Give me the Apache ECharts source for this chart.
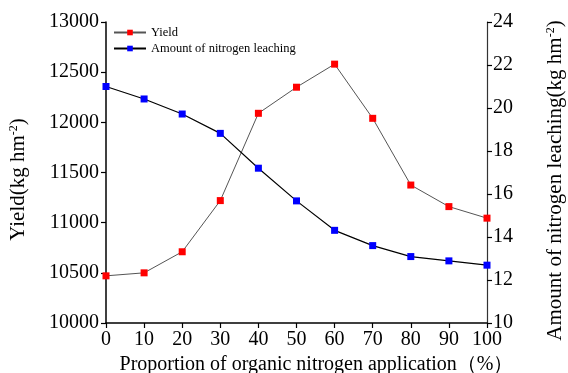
<!DOCTYPE html>
<html><head><meta charset="utf-8">
<script src="https://cdn.jsdelivr.net/npm/echarts@6/dist/echarts.min.js"></script>
<style>html,body{margin:0;padding:0;background:#fff}#c{width:568px;height:373px}</style>
</head><body><div id="c"></div>
<script>
const categories = ['0','10','20','30','40','50','60','70','80','90','100'];
const yieldValues = [10470, 10500, 10710, 11220, 12090, 12350, 12580, 12040, 11375, 11160, 11045];
const leachingValues = [21.0, 20.42, 19.72, 18.82, 17.2, 15.68, 14.31, 13.6, 13.09, 12.89, 12.69];
const leftTicks = [10000, 10500, 11000, 11500, 12000, 12500, 13000];
const rightTicks = [10, 12, 14, 16, 18, 20, 22, 24];

const FONT = '"Liberation Serif", "DejaVu Serif", serif';
const chart = echarts.init(document.getElementById('c'));
const tickStyle = {show: true, inside: false, length: 5, lineStyle: {color: '#000', width: 1.2}};
chart.setOption({
  animation: false,
  backgroundColor: '#fff',
  grid: {left: 106, right: 81, top: 22, bottom: 50, containLabel: false, outerBoundsMode: 'none'},
  legend: {
    orient: 'vertical', left: 108, top: 21, itemGap: 3,
    itemWidth: 32, itemHeight: 7,
    textStyle: {fontFamily: FONT, fontSize: 12.5, color: '#000'},
    data: ['Yield', 'Amount of nitrogen leaching']
  },
  xAxis: {
    type: 'category', data: categories, boundaryGap: false,
    axisLine: {show: true, lineStyle: {color: '#000', width: 1.5}},
    axisTick: {show: true, alignWithLabel: true, interval: 0, length: 5, lineStyle: {color: '#000', width: 1.2}},
    axisLabel: {color: '#000', fontFamily: FONT, fontSize: 20, margin: 7, interval: 0},
    splitLine: {show: false},
    name: 'Proportion of organic nitrogen application（%）',
    nameLocation: 'middle', nameGap: 31,
    nameTextStyle: {fontFamily: FONT, fontSize: 20, color: '#000', padding: [0, 0, 0, 40]}
  },
  yAxis: [
    {
      type: 'value', min: leftTicks[0], max: leftTicks[leftTicks.length - 1], interval: 500,
      axisLine: {show: true, lineStyle: {color: '#000', width: 1.5}},
      axisTick: tickStyle,
      splitLine: {show: false},
      axisLabel: {color: '#000', fontFamily: FONT, fontSize: 20, margin: 7, formatter: v => String(v)},
      name: '{n|Yield(kg hm}{s|-2}{n|)}', nameLocation: 'middle', nameGap: 77, nameRotate: 90,
      nameTextStyle: {padding: [0, 14, 0, 0], rich: {
        n: {fontFamily: FONT, fontSize: 21, color: '#000'},
        s: {fontFamily: FONT, fontSize: 12, color: '#000', verticalAlign: 'top', padding: [0, 0, 9, 0]}
      }}
    },
    {
      type: 'value', min: rightTicks[0], max: rightTicks[rightTicks.length - 1], interval: 2,
      position: 'right',
      axisLine: {show: true, lineStyle: {color: '#333', width: 1.2}},
      axisTick: tickStyle,
      splitLine: {show: false},
      axisLabel: {color: '#000', fontFamily: FONT, fontSize: 20, margin: 6},
      name: '{n|Amount of nitrogen leaching(kg hm}{s|-2}{n|)}', nameLocation: 'middle', nameGap: 58, nameRotate: 90,
      nameTextStyle: {padding: [0, 16, 0, 0], rich: {
        n: {fontFamily: FONT, fontSize: 21, color: '#000'},
        s: {fontFamily: FONT, fontSize: 12, color: '#000', verticalAlign: 'top', padding: [0, 0, 9, 0]}
      }}
    }
  ],
  series: [
    {
      name: 'Yield', type: 'line', yAxisIndex: 0, data: yieldValues,
      symbol: 'rect', symbolSize: 7,
      itemStyle: {color: '#ff0000'},
      lineStyle: {color: '#555', width: 1}
    },
    {
      name: 'Amount of nitrogen leaching', type: 'line', yAxisIndex: 1, data: leachingValues,
      symbol: 'rect', symbolSize: 7,
      itemStyle: {color: '#0000ff'},
      lineStyle: {color: '#000', width: 1.2}
    }
  ]
});
</script></body></html>
